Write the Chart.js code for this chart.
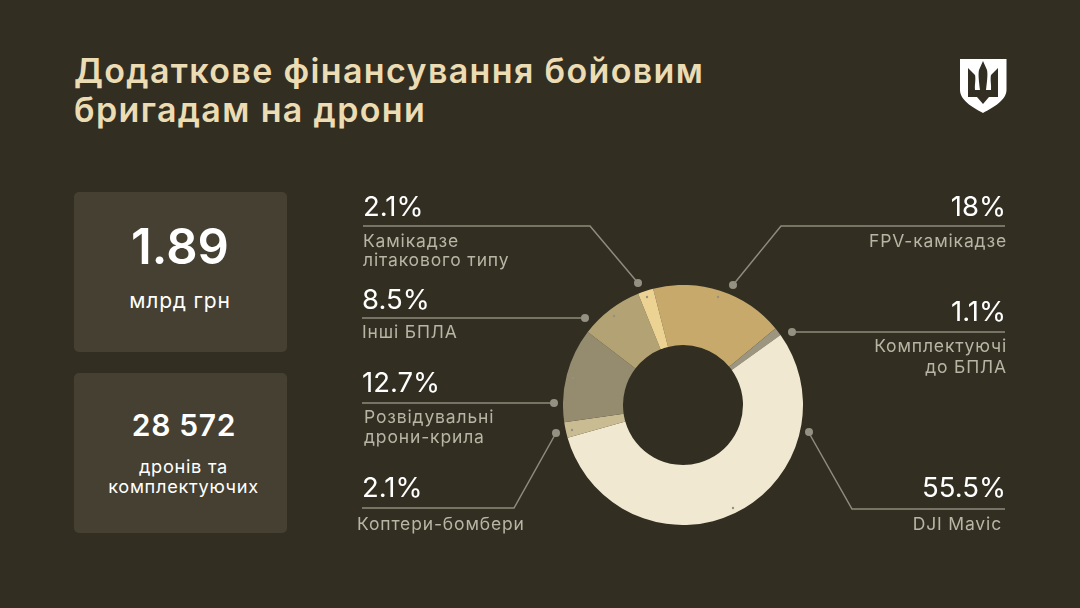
<!DOCTYPE html>
<html lang="uk">
<head>
<meta charset="utf-8">
<title>Додаткове фінансування бойовим бригадам на дрони</title>
<script src="https://cdn.jsdelivr.net/npm/chart.js@4"></script>
<style>
    html, body { margin: 0; padding: 0; }
    body { width: 1080px; height: 608px; position: relative; overflow: hidden; background: #322f22; font-family: Inter, "Noto Sans", sans-serif; }
    #chartBox { position: absolute; left: 563px; top: 285px; width: 240px; height: 240px; }
    #overlay { position: absolute; left: 0; top: 0; }
    h1 { position: absolute; left: 74px; top: 51px; margin: 0; font-size: 34px; line-height: 39px; font-weight: 600; letter-spacing: 1.35px; color: #ecdcb4; }
    .card { position: absolute; left: 74px; width: 213px; background: #454032; border-radius: 5px; color: #fff; text-align: center; }
    .pct { position: absolute; color: #fff; font-size: 27.5px; line-height: 30px; white-space: nowrap; }
    .name { position: absolute; color: #b9b5a5; font-size: 17.5px; line-height: 19px; letter-spacing: 0.85px; white-space: nowrap; }
    .right { text-align: right; }
</style>
</head>
<body>
<h1>Додаткове фінансування бойовим<br>бригадам на дрони</h1>

<div class="card" style="top:192px;height:160px">
    <div style="position:absolute;left:-1px;right:0;top:26px;font-size:49px;line-height:58px;font-weight:600">1.89</div>
    <div style="position:absolute;left:-1px;right:0;top:97px;font-size:21px;line-height:24px;letter-spacing:.8px">млрд грн</div>
</div>
<div class="card" style="top:373px;height:160px">
    <div style="position:absolute;left:7px;right:0;top:33px;font-size:30px;line-height:38px;font-weight:600;letter-spacing:.7px">28 572</div>
    <div style="position:absolute;left:6px;right:0;top:83px;font-size:18.2px;line-height:20px;letter-spacing:.7px">дронів та<br>комплектуючих</div>
</div>

<div id="chartBox"><canvas id="donut" width="240" height="240"></canvas></div>

<svg id="overlay" width="1080" height="608" fill="none" stroke="#8f8c7e" stroke-width="1.5">
    <!-- leader lines -->
    <polyline points="363,226 590,226 638,283"/>
    <polyline points="362,318 585,318"/>
    <polyline points="362,403 554,403"/>
    <polyline points="362,508 514,508 556,433"/>
    <polyline points="1005,226 781,226 733,285"/>
    <polyline points="1005,332 792,332"/>
    <polyline points="1005,509 852,509 809,433"/>
    <g fill="#949183" stroke="none">
        <circle cx="638" cy="283" r="4"/><circle cx="585" cy="318" r="4"/>
        <circle cx="554" cy="403" r="4"/><circle cx="556" cy="433" r="4"/>
        <circle cx="733" cy="285" r="4"/><circle cx="792" cy="332" r="4"/>
        <circle cx="809" cy="432" r="4"/>
        <circle cx="647" cy="297" r="1.2"/><circle cx="614" cy="316" r="1.2"/>
        <circle cx="573" cy="378" r="1.2"/><circle cx="572" cy="430" r="1.2"/>
        <circle cx="718" cy="297" r="1.2"/><circle cx="733" cy="508" r="1.2"/>
    </g>
    <!-- emblem -->
    <path fill="#ffffff" stroke="none" fill-rule="evenodd" d="M960 59H1006.5V90C1006.5 100 994 107 983 113C972 107 960 100 960 90Z
        M983 61L979 70C978 74 979 82 980 90H975C974.5 84 976 80 975 75L968 68V97H977L983 104L989 97H998V68L991 75C990 80 991.5 84 991 90H986C987 82 988 74 987 70Z"/>
</svg>

<div class="pct" style="left:363px;top:191px">2.1%</div>
<div class="name" style="left:363px;top:231px">Камікадзе<br>літакового типу</div>
<div class="pct" style="left:362px;top:284px">8.5%</div>
<div class="name" style="left:362px;top:322px">Інші БПЛА</div>
<div class="pct" style="left:362px;top:367px">12.7%</div>
<div class="name" style="left:364px;top:407px;line-height:19.5px">Розвідувальні<br>дрони-крила</div>
<div class="pct" style="left:362px;top:472px">2.1%</div>
<div class="name" style="left:357px;top:514px">Коптери-бомбери</div>

<div class="pct right" style="right:74px;top:191px">18%</div>
<div class="name right" style="right:73px;top:231px">FPV-камікадзе</div>
<div class="pct right" style="right:74px;top:296px">1.1%</div>
<div class="name right" style="right:73px;top:335px;line-height:21px">Комплектуючі<br>до БПЛА</div>
<div class="pct right" style="right:74px;top:472px">55.5%</div>
<div class="name right" style="right:78px;top:514px">DJI Mavic</div>

<script>
// Shares in percent, clockwise from the FPV slice
const categories = ['FPV-камікадзе', 'Комплектуючі до БПЛА', 'DJI Mavic', 'Коптери-бомбери', 'Розвідувальні дрони-крила', 'Інші БПЛА', 'Камікадзе літакового типу'];
const shares = [18, 1.1, 55.5, 2.1, 12.7, 8.5, 2.1];
const sliceColors = ['#c8a96c', '#9c9681', '#f1e8d1', '#c9bc92', '#958c70', '#b3a273', '#ecd394'];

new Chart(document.getElementById('donut'), {
    type: 'doughnut',
    data: {
        labels: categories,
        datasets: [{ data: shares, backgroundColor: sliceColors, borderWidth: 0 }]
    },
    options: {
        responsive: false,
        animation: false,
        rotation: -14.4,
        cutout: '50%',
        layout: { padding: 0 },
        plugins: { legend: { display: false }, tooltip: { enabled: false } }
    }
});
</script>
</body>
</html>
